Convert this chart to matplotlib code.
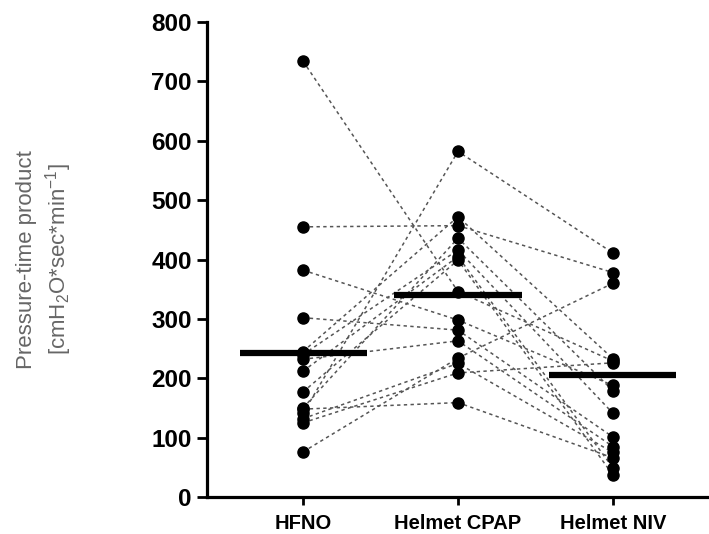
import matplotlib
matplotlib.use("Agg")
import matplotlib.pyplot as plt

categories = ["HFNO", "Helmet CPAP", "Helmet NIV"]
hfno = [734, 455, 382, 302, 245, 240, 232, 212, 177, 150, 148, 141, 132, 125, 76]
cpap = [346, 457, 298, 281, 472, 416, 263, 405, 399, 436, 159, 582, 225, 209, 234]
niv = [229, 378, 188, 101, 233, 141, 85, 49, 37, 179, 66, 411, 75, 226, 360]
center_bars = [243, 340, 205]
yticks = [0, 100, 200, 300, 400, 500, 600, 700, 800]

plt.rcParams['font.family'] = ['Liberation Sans', 'DejaVu Sans']
plt.rcParams['mathtext.fontset'] = 'custom'
plt.rcParams['mathtext.rm'] = 'Liberation Sans'

fig = plt.figure(figsize=(7.09, 5.34), dpi=100)
ax = fig.add_axes([207/709, 37/534, 502/709, 475/534])

xs = list(range(len(categories)))
for a, b, c in zip(hfno, cpap, niv):
    ax.plot(xs, [a, b, c], color='#555555', lw=1.1, ls=(0, (2.2, 2.2)), zorder=2)

for i, vals in enumerate([hfno, cpap, niv]):
    ax.plot([i] * len(vals), vals, 'o', color='black', ms=8, zorder=3)

for i, m in enumerate(center_bars):
    ax.plot([i - 0.41, i + 0.41], [m, m], color='black', lw=4.5, solid_capstyle='butt', zorder=4)

ax.set_xlim(-0.62, 2.62)
ax.set_ylim(0, 800)
ax.set_yticks(yticks)
ax.set_yticklabels([str(t) for t in yticks], fontsize=17.5, fontweight='bold')
ax.set_xticks(xs)
ax.set_xticklabels(categories, fontsize=14.5, fontweight='bold')

for s in ['top', 'right']:
    ax.spines[s].set_visible(False)
for s in ['left', 'bottom']:
    ax.spines[s].set_linewidth(2.3)
ax.tick_params(axis='y', length=7, width=2.0, pad=4)
ax.tick_params(axis='x', length=6, width=2.0, pad=6)

ax.set_ylabel("Pressure-time product\n[cmH$_2$O*sec*min$^{-1}$]", fontsize=16,
              color='#666666', linespacing=1.25)
ax.yaxis.set_label_coords(-0.265, 0.5)

fig.savefig("out.png", dpi=100)
